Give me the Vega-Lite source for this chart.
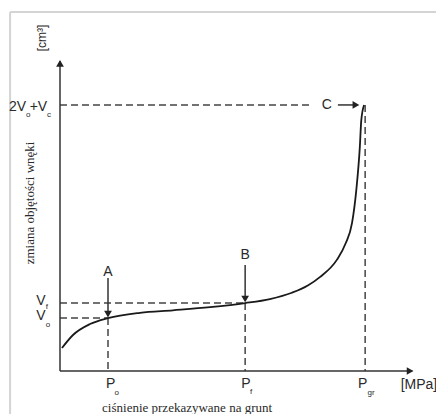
{
  "$schema": "https://vega.github.io/schema/vega-lite/v6.json",
  "width": 354,
  "height": 313,
  "autosize": "none",
  "padding": {"left": 60, "top": 58, "right": 22, "bottom": 43},
  "background": "white",
  "config": {"view": {"stroke": null}},
  "datasets": {
    "frame": [
      {"x": -14.1, "x2": -14.1, "y": 114.7, "y2": -14},
      {"x": -14.1, "x2": 107, "y": 114.7, "y2": 114.7}
    ],
    "dashes": [
      {"x": 0, "x2": 71.2, "y": 85.0, "y2": 85.0},
      {"x": 0, "x2": 52.3, "y": 21.7, "y2": 21.7},
      {"x": 0, "x2": 13.56, "y": 16.9, "y2": 16.9},
      {"x": 13.56, "x2": 13.56, "y": 16.9, "y2": 0},
      {"x": 52.3, "x2": 52.3, "y": 21.7, "y2": 0},
      {"x": 86.2, "x2": 86.2, "y": 85.0, "y2": 0}
    ],
    "arrows": [
      {"x": 0, "x2": 0, "y": 0, "y2": 99},
      {"x": 0, "x2": 99.5, "y": 0, "y2": 0},
      {"x": 13.56, "x2": 13.56, "y": 29.7, "y2": 18.5},
      {"x": 52.3, "x2": 52.3, "y": 33.9, "y2": 23.3},
      {"x": 78.5, "x2": 83.5, "y": 85.0, "y2": 85.0}
    ],
    "heads": [
      {"x": 0, "y": 98.3, "dir": "up"},
      {"x": 98.9, "y": 0, "dir": "right"},
      {"x": 13.56, "y": 18.2, "dir": "down"},
      {"x": 52.3, "y": 23.0, "dir": "down"},
      {"x": 83.6, "y": 85.0, "dir": "right"}
    ],
    "curve": [
      {"p": 0.56, "v": 7.35},
      {"p": 3.67, "v": 11.5},
      {"p": 8.47, "v": 15.0},
      {"p": 13.56, "v": 16.9},
      {"p": 22.6, "v": 18.6},
      {"p": 31.9, "v": 19.4},
      {"p": 42.4, "v": 20.4},
      {"p": 52.3, "v": 21.7},
      {"p": 59.3, "v": 23.0},
      {"p": 65.5, "v": 25.0},
      {"p": 70.0, "v": 27.3},
      {"p": 73.4, "v": 30.0},
      {"p": 78.2, "v": 35.5},
      {"p": 80.7, "v": 40.8},
      {"p": 82.5, "v": 47.3},
      {"p": 83.7, "v": 57.8},
      {"p": 84.7, "v": 71.6},
      {"p": 85.1, "v": 80.0},
      {"p": 85.9, "v": 85.0}
    ],
    "labels": [
      {"x": 13.56, "y": 31.6, "t": "A"},
      {"x": 52.3, "y": 37.1, "t": "B"},
      {"x": 75.4, "y": 85.0, "t": "C"},
      {"x": 14.3, "y": -4.2, "t": "P"},
      {"x": 52.5, "y": -4.2, "t": "P"},
      {"x": 85.5, "y": -4.2, "t": "P"},
      {"x": 101.4, "y": -4.5, "t": "[MPa]"},
      {"x": -12.0, "y": 84.3, "t": "2V"},
      {"x": -6.1, "y": 84.3, "t": "+V"},
      {"x": -5.4, "y": 22.4, "t": "V"},
      {"x": -5.4, "y": 17.6, "t": "V"}
    ],
    "subs": [
      {"x": 16.0, "y": -7.0, "t": "o"},
      {"x": 54.0, "y": -6.7, "t": "f"},
      {"x": 87.9, "y": -7.0, "t": "gr"},
      {"x": -9.0, "y": 81.8, "t": "o"},
      {"x": -3.1, "y": 81.8, "t": "c"},
      {"x": -3.7, "y": 20.6, "t": "f"},
      {"x": -3.4, "y": 14.7, "t": "o"}
    ],
    "rot": [
      {"x": -5.1, "y": 106.4, "t": "[cm³]"}
    ],
    "serif": [
      {"x": 35.9, "y": -11.8, "t": "ciśnienie przekazywane na grunt", "a": 0},
      {"x": -8.5, "y": 53.7, "t": "zmiana objętości wnęki", "a": 270}
    ]
  },
  "encoding": {
    "x": {"type": "quantitative", "scale": {"domain": [0, 100], "nice": false, "zero": false}, "axis": null},
    "y": {"type": "quantitative", "scale": {"domain": [0, 100], "nice": false, "zero": false}, "axis": null}
  },
  "layer": [
    {
      "data": {"name": "frame"},
      "mark": {"type": "rule", "color": "#d4d4d4", "strokeWidth": 2},
      "encoding": {"x": {"field": "x"}, "x2": {"field": "x2"}, "y": {"field": "y"}, "y2": {"field": "y2"}}
    },
    {
      "data": {"name": "dashes"},
      "mark": {"type": "rule", "color": "#444", "strokeWidth": 1.5, "strokeDash": [7, 4]},
      "encoding": {"x": {"field": "x"}, "x2": {"field": "x2"}, "y": {"field": "y"}, "y2": {"field": "y2"}}
    },
    {
      "data": {"name": "arrows"},
      "mark": {"type": "rule", "color": "#333", "strokeWidth": 1.5},
      "encoding": {"x": {"field": "x"}, "x2": {"field": "x2"}, "y": {"field": "y"}, "y2": {"field": "y2"}}
    },
    {
      "data": {"name": "heads"},
      "mark": {"type": "point", "filled": true, "color": "#222", "size": 60, "opacity": 1},
      "encoding": {
        "x": {"field": "x"},
        "y": {"field": "y"},
        "shape": {"field": "dir", "type": "nominal", "legend": null,
          "scale": {"domain": ["up", "down", "right"], "range": ["triangle-up", "triangle-down", "triangle-right"]}}
      }
    },
    {
      "data": {"name": "curve"},
      "mark": {"type": "line", "color": "#1a1a1a", "strokeWidth": 1.8, "interpolate": "monotone"},
      "encoding": {"x": {"field": "p"}, "y": {"field": "v"}}
    },
    {
      "data": {"name": "labels"},
      "mark": {"type": "text", "font": "Liberation Sans", "fontSize": 14, "color": "#2a2a2a", "align": "center", "baseline": "middle"},
      "encoding": {"x": {"field": "x"}, "y": {"field": "y"}, "text": {"field": "t"}}
    },
    {
      "data": {"name": "subs"},
      "mark": {"type": "text", "font": "Liberation Sans", "fontSize": 8, "color": "#2a2a2a", "align": "center", "baseline": "middle"},
      "encoding": {"x": {"field": "x"}, "y": {"field": "y"}, "text": {"field": "t"}}
    },
    {
      "data": {"name": "rot"},
      "mark": {"type": "text", "font": "Liberation Sans", "fontSize": 12, "color": "#2a2a2a", "align": "center", "baseline": "middle", "angle": 270},
      "encoding": {"x": {"field": "x"}, "y": {"field": "y"}, "text": {"field": "t"}}
    },
    {
      "data": {"name": "serif"},
      "mark": {"type": "text", "font": "Liberation Serif", "fontSize": 13, "color": "#2a2a2a", "align": "center", "baseline": "middle"},
      "encoding": {"x": {"field": "x"}, "y": {"field": "y"}, "text": {"field": "t"}, "angle": {"field": "a", "type": "quantitative", "scale": null}}
    }
  ]
}
